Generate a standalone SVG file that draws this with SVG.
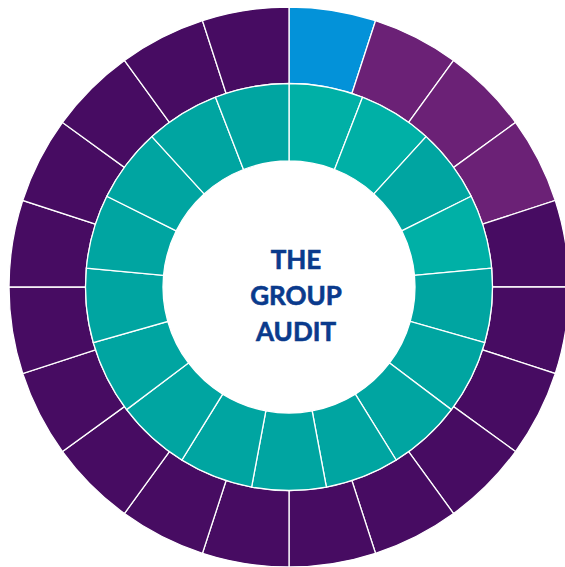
<svg xmlns="http://www.w3.org/2000/svg" width="565" height="567" viewBox="0 0 565 567">
<style>
.seg{stroke:#ffffff;stroke-width:1.3;stroke-linejoin:miter}
.dp{fill:#470c62}
.lp{fill:#6b2176}
.bl{fill:#0392d9}
.lt{fill:#00b0a6}
.dt{fill:#00a5a1}
.lbl{font-family:Lato,"Open Sans","Liberation Sans",sans-serif;font-weight:bold;font-size:26px;fill:#0a3a8c;stroke:#0a3a8c;stroke-width:0.6;text-anchor:middle}
</style>
<rect width="565" height="567" fill="#ffffff"/>
<g id="outer-ring">
<path class="seg bl" d="M289,7 A280,280 0 0 1 375.52,20.70 L351.885,93.46 A203.5,203.5 0 0 0 289,83.5 Z"/>
<path class="seg lp" d="M375.52,20.70 A280,280 0 0 1 453.58,60.48 L408.614,122.365 A203.5,203.5 0 0 0 351.885,93.46 Z"/>
<path class="seg lp" d="M453.58,60.48 A280,280 0 0 1 515.52,122.42 L453.635,167.386 A203.5,203.5 0 0 0 408.614,122.365 Z"/>
<path class="seg lp" d="M515.52,122.42 A280,280 0 0 1 555.30,200.48 L482.54,224.115 A203.5,203.5 0 0 0 453.635,167.386 Z"/>
<path class="seg dp" d="M555.30,200.48 A280,280 0 0 1 569,287 L492.5,287 A203.5,203.5 0 0 0 482.54,224.115 Z"/>
<path class="seg dp" d="M569,287 A280,280 0 0 1 555.30,373.52 L482.54,349.885 A203.5,203.5 0 0 0 492.5,287 Z"/>
<path class="seg dp" d="M555.30,373.52 A280,280 0 0 1 515.52,451.58 L453.635,406.614 A203.5,203.5 0 0 0 482.54,349.885 Z"/>
<path class="seg dp" d="M515.52,451.58 A280,280 0 0 1 453.58,513.52 L408.614,451.635 A203.5,203.5 0 0 0 453.635,406.614 Z"/>
<path class="seg dp" d="M453.58,513.52 A280,280 0 0 1 375.52,553.30 L351.885,480.54 A203.5,203.5 0 0 0 408.614,451.635 Z"/>
<path class="seg dp" d="M375.52,553.30 A280,280 0 0 1 289,567 L289,490.5 A203.5,203.5 0 0 0 351.885,480.54 Z"/>
<path class="seg dp" d="M289,567 A280,280 0 0 1 202.48,553.30 L226.115,480.54 A203.5,203.5 0 0 0 289,490.5 Z"/>
<path class="seg dp" d="M202.48,553.30 A280,280 0 0 1 124.42,513.52 L169.386,451.635 A203.5,203.5 0 0 0 226.115,480.54 Z"/>
<path class="seg dp" d="M124.42,513.52 A280,280 0 0 1 62.48,451.58 L124.365,406.614 A203.5,203.5 0 0 0 169.386,451.635 Z"/>
<path class="seg dp" d="M62.48,451.58 A280,280 0 0 1 22.70,373.52 L95.46,349.885 A203.5,203.5 0 0 0 124.365,406.614 Z"/>
<path class="seg dp" d="M22.70,373.52 A280,280 0 0 1 9,287 L85.5,287 A203.5,203.5 0 0 0 95.46,349.885 Z"/>
<path class="seg dp" d="M9,287 A280,280 0 0 1 22.70,200.48 L95.46,224.115 A203.5,203.5 0 0 0 85.5,287 Z"/>
<path class="seg dp" d="M22.70,200.48 A280,280 0 0 1 62.48,122.42 L124.365,167.386 A203.5,203.5 0 0 0 95.46,224.115 Z"/>
<path class="seg dp" d="M62.48,122.42 A280,280 0 0 1 124.42,60.48 L169.386,122.365 A203.5,203.5 0 0 0 124.365,167.386 Z"/>
<path class="seg dp" d="M124.42,60.48 A280,280 0 0 1 202.48,20.70 L226.115,93.46 A203.5,203.5 0 0 0 169.386,122.365 Z"/>
<path class="seg dp" d="M202.48,20.70 A280,280 0 0 1 289,7 L289,83.5 A203.5,203.5 0 0 0 226.115,93.46 Z"/>
</g>
<g id="inner-ring">
<path class="seg lt" d="M289,83.5 A203.5,203.5 0 0 1 362.51,97.24 L334.52,169.51 A126,126 0 0 0 289,161 Z"/>
<path class="seg lt" d="M362.51,97.24 A203.5,203.5 0 0 1 426.10,136.61 L373.89,193.88 A126,126 0 0 0 334.52,169.51 Z"/>
<path class="seg dt" d="M426.10,136.61 A203.5,203.5 0 0 1 471.17,196.29 L401.79,230.84 A126,126 0 0 0 373.89,193.88 Z"/>
<path class="seg lt" d="M471.17,196.29 A203.5,203.5 0 0 1 491.63,268.22 L414.46,275.37 A126,126 0 0 0 401.79,230.84 Z"/>
<path class="seg dt" d="M491.63,268.22 A203.5,203.5 0 0 1 484.73,342.69 L410.19,321.48 A126,126 0 0 0 414.46,275.37 Z"/>
<path class="seg dt" d="M484.73,342.69 A203.5,203.5 0 0 1 451.40,409.64 L389.55,362.93 A126,126 0 0 0 410.19,321.48 Z"/>
<path class="seg dt" d="M451.40,409.64 A203.5,203.5 0 0 1 396.13,460.02 L355.33,394.13 A126,126 0 0 0 389.55,362.93 Z"/>
<path class="seg dt" d="M396.13,460.02 A203.5,203.5 0 0 1 326.39,487.03 L312.15,410.85 A126,126 0 0 0 355.33,394.13 Z"/>
<path class="seg dt" d="M326.39,487.03 A203.5,203.5 0 0 1 251.61,487.03 L265.85,410.85 A126,126 0 0 0 312.15,410.85 Z"/>
<path class="seg dt" d="M251.61,487.03 A203.5,203.5 0 0 1 181.87,460.02 L222.67,394.13 A126,126 0 0 0 265.85,410.85 Z"/>
<path class="seg dt" d="M181.87,460.02 A203.5,203.5 0 0 1 126.60,409.64 L188.45,362.93 A126,126 0 0 0 222.67,394.13 Z"/>
<path class="seg dt" d="M126.60,409.64 A203.5,203.5 0 0 1 93.27,342.69 L167.81,321.48 A126,126 0 0 0 188.45,362.93 Z"/>
<path class="seg dt" d="M93.27,342.69 A203.5,203.5 0 0 1 86.37,268.22 L163.54,275.37 A126,126 0 0 0 167.81,321.48 Z"/>
<path class="seg dt" d="M86.37,268.22 A203.5,203.5 0 0 1 106.83,196.29 L176.21,230.84 A126,126 0 0 0 163.54,275.37 Z"/>
<path class="seg dt" d="M106.83,196.29 A203.5,203.5 0 0 1 151.90,136.61 L204.11,193.88 A126,126 0 0 0 176.21,230.84 Z"/>
<path class="seg dt" d="M151.90,136.61 A203.5,203.5 0 0 1 215.49,97.24 L243.48,169.51 A126,126 0 0 0 204.11,193.88 Z"/>
<path class="seg dt" d="M215.49,97.24 A203.5,203.5 0 0 1 289,83.5 L289,161 A126,126 0 0 0 243.48,169.51 Z"/>
</g>
<g id="center-label">
<text class="lbl" x="296" y="269">THE</text>
<text class="lbl" x="296" y="305">GROUP</text>
<text class="lbl" x="296" y="340.7">AUDIT</text>
</g>
</svg>
